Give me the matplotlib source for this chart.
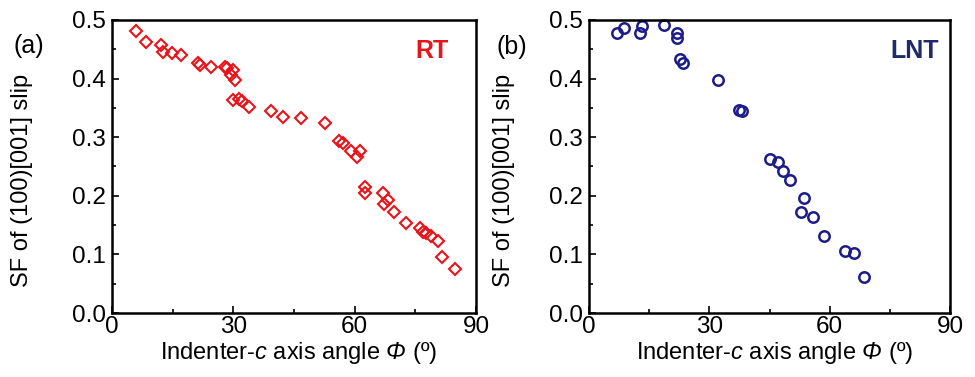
import matplotlib
matplotlib.use("Agg")
import matplotlib.pyplot as plt
from matplotlib.ticker import MultipleLocator

plt.rcParams['font.family'] = ['Liberation Sans', 'DejaVu Sans']
plt.rcParams['mathtext.fontset'] = 'custom'
plt.rcParams['mathtext.it'] = 'Liberation Sans:italic'
plt.rcParams['mathtext.rm'] = 'Liberation Sans:italic'

# RT data (Indenter-c axis angle, SF)
rt_angle = [5.9, 8.4, 12.0, 12.7, 14.9, 17.1, 21.3, 21.8, 24.6, 27.9, 28.4, 29.8,
            29.4, 30.4, 29.8, 31.5, 32.1, 33.8, 39.2, 42.2, 46.7, 52.7, 56.2, 57.0,
            59.0, 61.2, 60.5, 62.6, 62.6, 67.1, 68.2, 67.3, 69.7, 72.7, 76.2, 77.0,
            77.6, 78.8, 80.7, 81.5, 84.8]
rt_sf = [0.482, 0.463, 0.457, 0.446, 0.443, 0.441, 0.427, 0.424, 0.420, 0.420, 0.418,
         0.415, 0.406, 0.398, 0.363, 0.365, 0.362, 0.351, 0.344, 0.335, 0.332, 0.325,
         0.294, 0.290, 0.277, 0.277, 0.266, 0.2145, 0.204, 0.205, 0.193, 0.186, 0.172,
         0.154, 0.1445, 0.139, 0.136, 0.131, 0.123, 0.095, 0.0745]

# LNT data
lnt_angle = [6.9, 8.7, 12.7, 13.1, 18.8, 21.9, 22.0, 22.7, 23.5, 32.2, 37.5, 38.1,
             45.1, 47.0, 48.3, 50.1, 53.7, 52.8, 55.9, 58.6, 63.9, 66.1, 68.6]
lnt_sf = [0.478, 0.487, 0.477, 0.489, 0.491, 0.478, 0.470, 0.434, 0.426, 0.397, 0.347,
          0.344, 0.262, 0.257, 0.243, 0.227, 0.196, 0.173, 0.164, 0.132, 0.105, 0.102,
          0.062]

x_ticks = [0, 30, 60, 90]
y_ticks = [0.0, 0.1, 0.2, 0.3, 0.4, 0.5]

red = '#e8141a'
navy = '#1c1c8a'

fig = plt.figure(figsize=(9.75, 3.77), dpi=100)
ax1 = fig.add_axes([112/975, 1-313/377, 364/975, 293/377])
ax2 = fig.add_axes([589/975, 1-313/377, 361/975, 293/377])

ax1.plot(rt_angle, rt_sf, linestyle='none', marker='D', ms=6.5, mfc='none',
         mec=red, mew=1.5, clip_on=False)
ax2.plot(lnt_angle, lnt_sf, linestyle='none', marker='o', ms=7.5, mfc='none',
         mec=navy, mew=1.8, clip_on=False)

panels = [(ax1, 'RT', red, 432/975, -0.217),
          (ax2, 'LNT', '#1f2a6b', 915/975, -0.205)]
for ax, tag, tcol, tagx, ylx in panels:
    ax.set_xlim(0, 90)
    ax.set_ylim(0, 0.5)
    ax.set_xticks(x_ticks)
    ax.set_yticks(y_ticks)
    ax.set_yticklabels([f'{v:.1f}' for v in y_ticks])
    ax.xaxis.set_minor_locator(MultipleLocator(15))
    ax.yaxis.set_minor_locator(MultipleLocator(0.05))
    ax.tick_params(which='both', direction='in', top=False, right=False, width=1.2)
    ax.tick_params(which='major', length=5)
    ax.tick_params(which='minor', length=3)
    ax.tick_params(axis='x', labelsize=17.5, pad=2.5)
    ax.tick_params(axis='y', labelsize=17.5, pad=4.5)
    for s in ax.spines.values():
        s.set_linewidth(1.8)
    ax.set_xlabel('Indenter-$c$ axis angle $Φ$ (º)', fontsize=17)
    ax.xaxis.set_label_coords(0.514, -0.092)
    ax.set_ylabel('SF of (100)[001] slip', fontsize=17)
    ax.yaxis.set_label_coords(ylx, 0.454)
    ax.text(tagx, 1 - 51/377, tag, transform=fig.transFigure, fontsize=18,
            fontweight='bold', color=tcol, ha='center', va='center')

fig.text(29/975, 1 - 46/377, '(a)', fontsize=18, ha='center', va='center')
fig.text(512/975, 1 - 47/377, '(b)', fontsize=18, ha='center', va='center')

fig.savefig('out.png', dpi=100)
